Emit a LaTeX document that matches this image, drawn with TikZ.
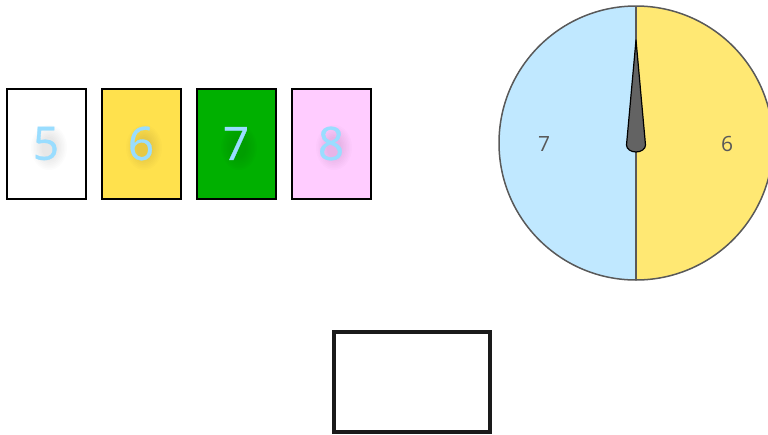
\documentclass[tikz,border=0pt]{standalone}
\usepackage{fontspec}
\setmainfont{Open Sans}
\definecolor{cardblue}{HTML}{99DDFF}
\definecolor{cardyellow}{HTML}{FFE14D}
\definecolor{cardgreen}{HTML}{00B000}
\definecolor{cardpink}{HTML}{FFCCFF}
\definecolor{spinblue}{HTML}{C0E8FF}
\definecolor{spinyellow}{HTML}{FFE873}
\definecolor{rimgray}{HTML}{595959}
\definecolor{needlegray}{HTML}{636363}
\definecolor{labelgray}{HTML}{595959}
\definecolor{boxgray}{HTML}{1A1A1A}
\tikzset{
  card/.style={draw=black, line width=2pt, minimum width=79pt, minimum height=110pt, inner sep=0pt, anchor=north west},
  cardnum/.style={text=cardblue, font=\fontsize{46}{46}\selectfont\addfontfeature{FakeBold=0.6}},
  spinlabel/.style={text=labelgray, font=\fontsize{21}{21}\selectfont}
}
\begin{document}
\begin{tikzpicture}[x=1pt, y=-1pt]
\useasboundingbox (0,0) rectangle (768,434);
% cards
\node[card, fill=white] (c5) at (5.5,87.5) {};
\node[card, fill=cardyellow] (c6) at (100.5,87.5) {};
\node[card, fill=cardgreen] (c7) at (195.5,87.5) {};
\node[card, fill=cardpink] (c8) at (290.5,87.5) {};
\foreach \c/\n in {c5/5, c6/6, c7/7, c8/8} {
  \foreach \r in {1,...,8} {
    \fill[black, opacity=0.012] ([xshift=3pt, yshift=-4pt]\c.center) ellipse[x radius=6pt+1.5pt*\r, y radius=9pt+1.7pt*\r];
  }
  \node[cardnum] (n\n) at (\c.center) {\n};
}
% spinner
\begin{scope}
\clip (0,0) rectangle (768,434);
\coordinate (sc) at (636,143);
\fill[spinblue] (636,6) arc[start angle=270, end angle=90, radius=137] -- cycle;
\fill[spinyellow] (636,6) arc[start angle=-90, end angle=90, radius=137] -- cycle;
\draw[rimgray, line width=1.5pt] (sc) circle[radius=137];
\draw[rimgray, line width=1.5pt] (636,6) -- (636,280);
\end{scope}
\node[spinlabel] (s7) at (544,144) {7};
\node[spinlabel] (s6) at (727,144) {6};
% needle
\draw[black, line width=1.2pt, fill=needlegray, line join=round]
  (636,40) -- (645.5,145) arc[start angle=0, end angle=180, radius=9.5, y radius=7] -- cycle;
% answer box
\node[draw=boxgray, line width=4pt, minimum width=156pt, minimum height=100pt, inner sep=0pt] (ans) at (412,382) {};
\end{tikzpicture}
\end{document}
